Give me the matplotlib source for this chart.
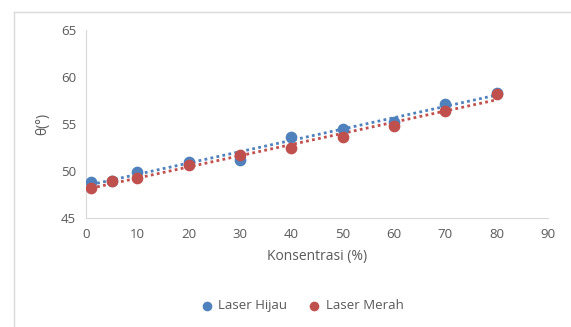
import matplotlib.pyplot as plt
import numpy as np

# Data
konsentrasi = [1, 5, 10, 20, 30, 40, 50, 60, 70, 80]
hijau = [48.8, 48.9, 49.9, 51.0, 51.2, 53.6, 54.5, 55.2, 57.1, 58.3]
merah = [48.2, 48.9, 49.25, 50.6, 51.65, 52.5, 53.6, 54.8, 56.4, 58.2]
series_names = ["Laser Hijau", "Laser Merah"]
colors = ["#4f81bd", "#c0504d"]

plt.rcParams['font.family'] = ['Open Sans', 'DejaVu Sans']
grey = "#595959"

fig = plt.figure(figsize=(5.71, 3.27), dpi=100)
ax = fig.add_axes([86 / 571, 1 - 218 / 327, (548 - 86) / 571, (218 - 30) / 327])

x = np.array(konsentrasi)
for y, c, name in zip([hijau, merah], colors, series_names):
    ax.scatter(x, y, s=55, color=c, zorder=3, label=name)
    slope, icpt = np.polyfit(x, y, 1)
    ax.plot(x, slope * x + icpt, color=c, linestyle=(0, (1, 1.2)), linewidth=2, zorder=2)

ax.set_xlim(0, 90)
ax.set_ylim(45, 65)
ax.set_xticks(range(0, 91, 10))
ax.set_yticks(range(45, 66, 5))
ax.tick_params(length=0, labelsize=9.5, colors=grey, pad=7)
for s in ["top", "right"]:
    ax.spines[s].set_visible(False)
for s in ["left", "bottom"]:
    ax.spines[s].set_color("#d9d9d9")

ax.set_xlabel("Konsentrasi (%)", fontsize=10, color=grey, labelpad=6)
ax.set_ylabel("θ(°)", fontsize=10, color=grey, labelpad=8)

ax.legend(loc="upper center", bbox_to_anchor=(0.46, -0.37), ncol=2, frameon=False,
          fontsize=9.5, labelcolor=grey, handletextpad=-0.1, columnspacing=1.0,
          markerscale=0.8)

# outer chart border
fig.add_artist(plt.Line2D([13.5 / 571, 13.5 / 571], [0, 1 - 11.5 / 327],
                          transform=fig.transFigure, color="#d9d9d9", lw=1))
fig.add_artist(plt.Line2D([13.5 / 571, 1], [1 - 11.5 / 327, 1 - 11.5 / 327],
                          transform=fig.transFigure, color="#d9d9d9", lw=1))

fig.savefig("out.png", dpi=100)
